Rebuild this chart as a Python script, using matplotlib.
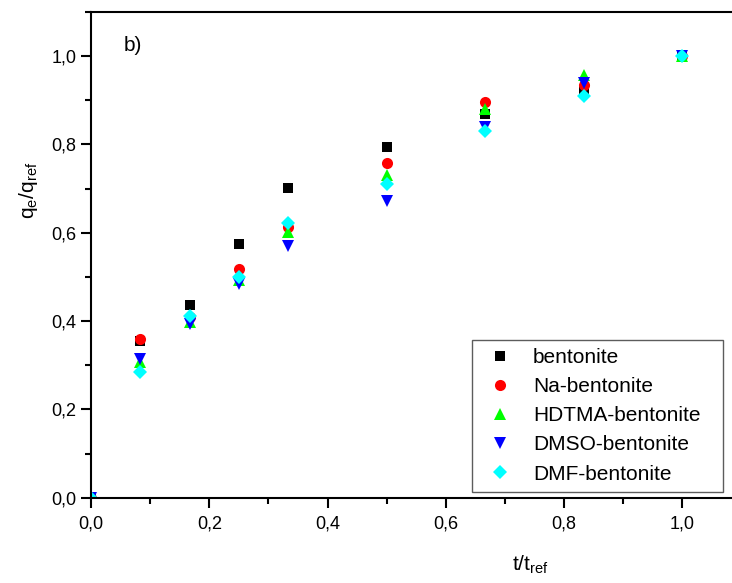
import matplotlib
matplotlib.use("Agg")
import matplotlib.pyplot as plt
from matplotlib.ticker import MultipleLocator, FuncFormatter

plt.rcParams['font.family'] = ['Liberation Sans', 'DejaVu Sans']

t = [0.0, 1/12, 1/6, 0.25, 1/3, 0.5, 2/3, 5/6, 1.0]
bentonite = [0.0, 0.355, 0.436, 0.574, 0.702, 0.794, 0.870, 0.923, 1.0]
na_bent = [0.0, 0.359, 0.410, 0.517, 0.612, 0.759, 0.896, 0.935, 1.0]
hdtma_bent = [0.0, 0.307, 0.398, 0.492, 0.602, 0.730, 0.881, 0.957, 1.0]
dmso_bent = [0.0, 0.313, 0.393, 0.484, 0.570, 0.673, 0.840, 0.939, 1.0]
dmf_bent = [0.0, 0.285, 0.412, 0.499, 0.623, 0.710, 0.830, 0.909, 1.0]

series = [
    ("bentonite", bentonite, 's', '#000000', 7.0),
    ("Na-bentonite", na_bent, 'o', '#ff0000', 8.0),
    ("HDTMA-bentonite", hdtma_bent, '^', '#00ff00', 9.0),
    ("DMSO-bentonite", dmso_bent, 'v', '#0000ff', 9.0),
    ("DMF-bentonite", dmf_bent, 'D', '#00ffff', 7.5),
]

fig = plt.figure(figsize=(7.32, 5.83), dpi=100)
ax = fig.add_axes([91/732, (583-497.7)/583, (732-91)/732, (497.7-12)/583])

for label, vals, m, c, ms in series:
    ax.plot(t, vals, linestyle='none', marker=m, color=c, markersize=ms,
            markeredgewidth=0, label=label, clip_on=True)

ax.set_xlim(0, 1.084)
ax.set_ylim(0, 1.1)
ax.xaxis.set_major_locator(MultipleLocator(0.2))
ax.xaxis.set_minor_locator(MultipleLocator(0.1))
ax.yaxis.set_major_locator(MultipleLocator(0.2))
ax.yaxis.set_minor_locator(MultipleLocator(0.1))
fmt = FuncFormatter(lambda v, p: f"{v:.1f}".replace('.', ','))
ax.xaxis.set_major_formatter(fmt)
ax.yaxis.set_major_formatter(fmt)

ax.spines['right'].set_visible(False)
for s in ['left', 'bottom', 'top']:
    ax.spines[s].set_linewidth(1.5)
ax.tick_params(which='major', direction='out', length=7, width=1.5, labelsize=13,
               top=False, right=False)
ax.tick_params(axis='x', which='major', pad=6)
ax.tick_params(which='minor', direction='out', length=4, width=1.5, top=False, right=False)

ax.set_xlabel(r"t/t$_{\mathregular{ref}}$", fontsize=15)
ax.set_ylabel(r"q$_{\mathregular{e}}$/q$_{\mathregular{ref}}$", fontsize=15)
ax.xaxis.set_label_coords((530-91)/641, -(553-497.7)/485.7)
ax.yaxis.set_label_coords(-(91-40)/641, (497.7-190)/485.7)

ax.text(0.055, 1.025, "b)", fontsize=15, ha='left', va='center')

leg = ax.legend(loc='lower left', bbox_to_anchor=(472/732, (583-492)/583, 251/732, 152/583),
                bbox_transform=fig.transFigure, borderaxespad=0, fontsize=15, mode='expand',
                frameon=True, fancybox=False, handlelength=1.9, handletextpad=0.63,
                labelspacing=0.49, borderpad=0.4, numpoints=1)
leg.get_frame().set_edgecolor('#333333')
leg.get_frame().set_linewidth(1.0)

fig.savefig("out.png", dpi=100)
